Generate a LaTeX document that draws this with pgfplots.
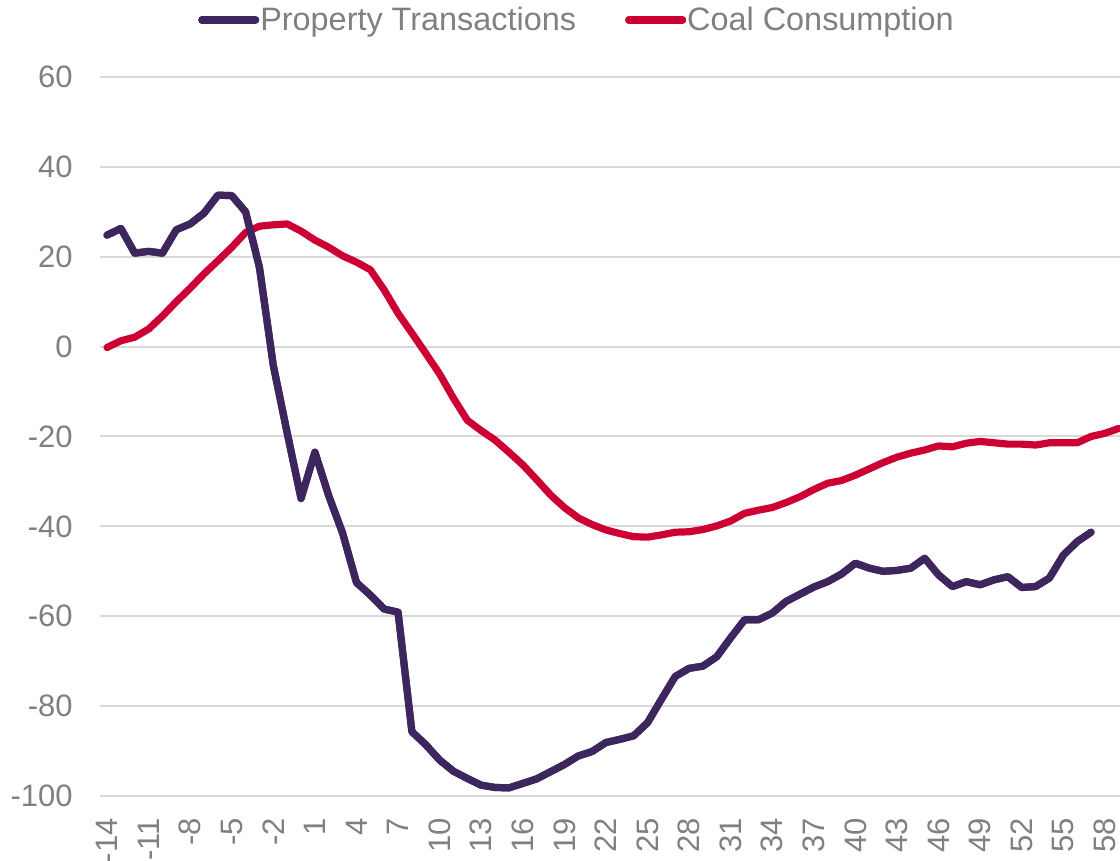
\documentclass[border=0pt]{standalone}
\usepackage{fontspec}
\setmainfont{Liberation Sans}
\usepackage{pgfplots}
\usepackage{pgfplotstable}
\pgfplotsset{compat=1.18}
\definecolor{ptcol}{RGB}{61,38,94}
\definecolor{cccol}{RGB}{204,0,51}
\definecolor{txt}{RGB}{128,128,128}
\definecolor{grd}{RGB}{217,217,217}
\pgfplotstableread{
x y
-14 24.8
-13 26.3
-12 20.8
-11 21.2
-10 20.8
-9 26.0
-8 27.3
-7 29.7
-6 33.7
-5 33.6
-4 30.0
-3 17.6
-2 -4.2
-1 -19.2
0 -33.8
1 -23.5
2 -33.2
3 -41.5
4 -52.5
5 -55.3
6 -58.4
7 -59.1
8 -85.7
9 -88.6
10 -92.0
11 -94.5
12 -96.1
13 -97.6
14 -98.1
15 -98.2
16 -97.2
17 -96.2
18 -94.6
19 -93.0
20 -91.1
21 -90.1
22 -88.1
23 -87.4
24 -86.6
25 -83.7
26 -78.5
27 -73.4
28 -71.6
29 -71.1
30 -69.0
31 -64.8
32 -60.8
33 -60.8
34 -59.3
35 -56.7
36 -55.1
37 -53.5
38 -52.3
39 -50.6
40 -48.2
41 -49.3
42 -50.0
43 -49.8
44 -49.3
45 -47.1
46 -50.8
47 -53.4
48 -52.3
49 -53.0
50 -51.9
51 -51.2
52 -53.6
53 -53.4
54 -51.5
55 -46.4
56 -43.4
57 -41.3
}\prop
\pgfplotstableread{
x y
-14 -0.2
-13 1.3
-12 2.1
-11 3.9
-10 6.8
-9 10.0
-8 13.0
-7 16.2
-6 19.1
-5 22.1
-4 25.4
-3 26.8
-2 27.1
-1 27.3
0 25.7
1 23.7
2 22.1
3 20.2
4 18.8
5 17.1
6 12.6
7 7.4
8 3.0
9 -1.5
10 -6.1
11 -11.5
12 -16.4
13 -18.7
14 -20.8
15 -23.5
16 -26.3
17 -29.6
18 -33.0
19 -35.8
20 -38.1
21 -39.6
22 -40.8
23 -41.6
24 -42.3
25 -42.4
26 -41.9
27 -41.3
28 -41.2
29 -40.7
30 -39.9
31 -38.8
32 -37.1
33 -36.4
34 -35.8
35 -34.7
36 -33.4
37 -31.8
38 -30.4
39 -29.8
40 -28.6
41 -27.2
42 -25.8
43 -24.6
44 -23.7
45 -23.0
46 -22.1
47 -22.3
48 -21.5
49 -21.1
50 -21.4
51 -21.7
52 -21.7
53 -21.9
54 -21.4
55 -21.4
56 -21.4
57 -20.0
58 -19.3
59 -18.2
}\coal
\begin{document}
\begin{tikzpicture}
\useasboundingbox (-50.04pt,-32.5pt) rectangle (509.96pt,398pt);
\begin{axis}[
  at={(0pt,0pt)}, anchor=south west,
  scale only axis, width=512.8pt, height=359.5pt,
  xmin=-14.5, xmax=59.5, ymin=-100, ymax=60,
  xtick={-14,-11,...,58}, ytick={-100,-80,...,60},
  axis line style={draw=none}, major tick length=0pt,
  ymajorgrids, major grid style={grd, line width=1pt},
  tick label style={font=\fontsize{15.5}{18}\selectfont, text=txt, /pgf/number format/assume math mode=true},
  xticklabel style={rotate=90, anchor=east, inner sep=0pt},
  xticklabel shift=11pt,
  yticklabel style={inner sep=0pt, anchor=east},
  yticklabel shift=13.5pt,
  legend columns=2,
  legend style={at={(0.4645,1.0793)}, anchor=center, draw=none, fill=none,
    font=\fontsize{16.2}{19}\selectfont, text=txt,
    /tikz/every even column/.append style={column sep=24pt},
    nodes={inner sep=0.5pt}},
  legend image code/.code={\draw[#1, line cap=round] (0pt,0pt) -- (27pt,0pt);},
]
\addplot[ptcol, line width=3.6pt, line join=round, line cap=round] table {\prop};
\addlegendentry{Property Transactions}
\addplot[cccol, line width=3.6pt, line join=round, line cap=round] table {\coal};
\addlegendentry{Coal Consumption}
\addplot[ptcol, line width=3.6pt, line join=round, line cap=round, forget plot] table {\prop};
\end{axis}
\end{tikzpicture}
\end{document}
